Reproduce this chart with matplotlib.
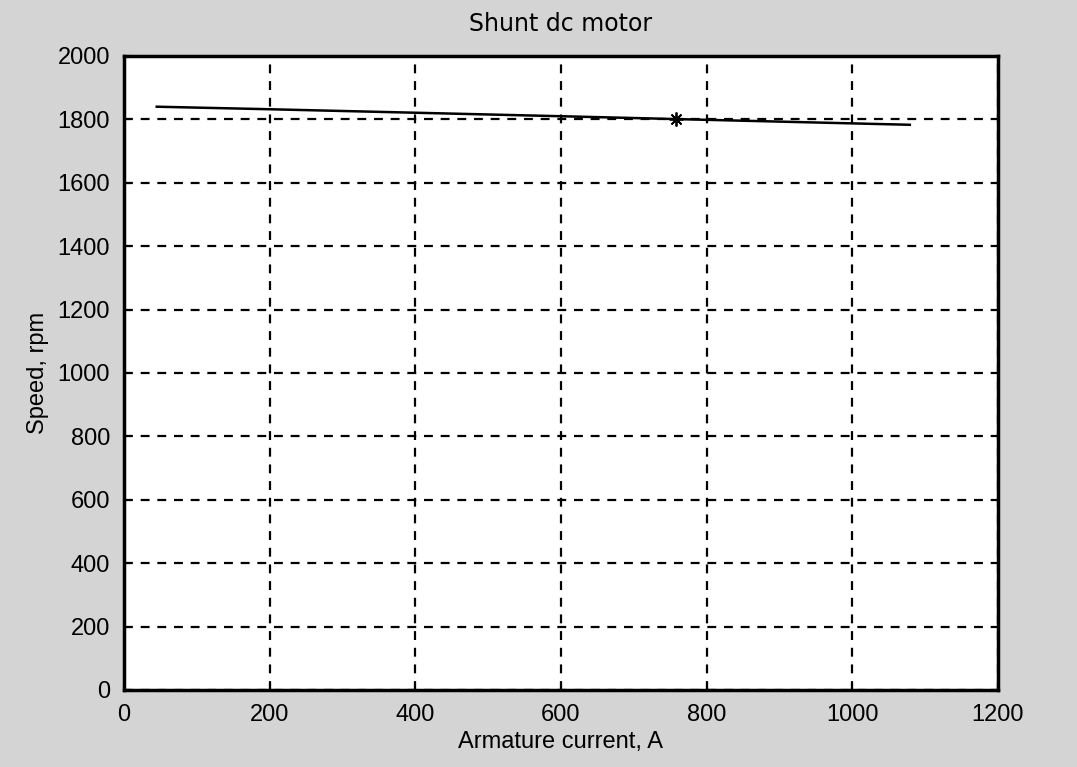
import numpy as np
import matplotlib.pyplot as plt

# armature current (A) vs speed (rpm)
current = [45, 200, 400, 600, 758, 900, 1079]
speed = [1840, 1832, 1821, 1810, 1801, 1793, 1783]
rated_current = [758]
rated_speed = [1800]

xticks = [0, 200, 400, 600, 800, 1000, 1200]
yticks = [0, 200, 400, 600, 800, 1000, 1200, 1400, 1600, 1800, 2000]

plt.rcParams['font.family'] = ['Liberation Sans', 'DejaVu Sans']

fig = plt.figure(figsize=(10.77, 7.67), dpi=100, facecolor='#d4d4d4')
ax = fig.add_axes([0.1151, 0.1004, 0.8115, 0.8266])
ax.set_facecolor('white')

ax.plot(current, speed, color='black', linewidth=1.8)
# MATLAB-style '*' marker (plus and cross together)
ax.plot(rated_current, rated_speed, linestyle='none', marker=(8, 2, 0),
        markersize=10, markeredgewidth=1.3, color='black')

ax.set_xlim(0, 1200)
ax.set_ylim(0, 2000)
ax.set_xticks(xticks)
ax.set_yticks(yticks)
ax.tick_params(direction='in', length=5, width=1.5, labelsize=17, pad=10,
               colors='black')
ax.grid(True, color='black', linestyle=(0, (4, 3.5)), linewidth=1.6)
for s in ax.spines.values():
    s.set_linewidth(2.5)

ax.set_title('Shunt dc motor', fontsize=17, pad=18, family=['DejaVu Sans'])
ax.set_xlabel('Armature current, A', fontsize=17, labelpad=4)
ax.set_ylabel('Speed, rpm', fontsize=17, labelpad=6)

fig.savefig('out.png', dpi=100, facecolor=fig.get_facecolor())
